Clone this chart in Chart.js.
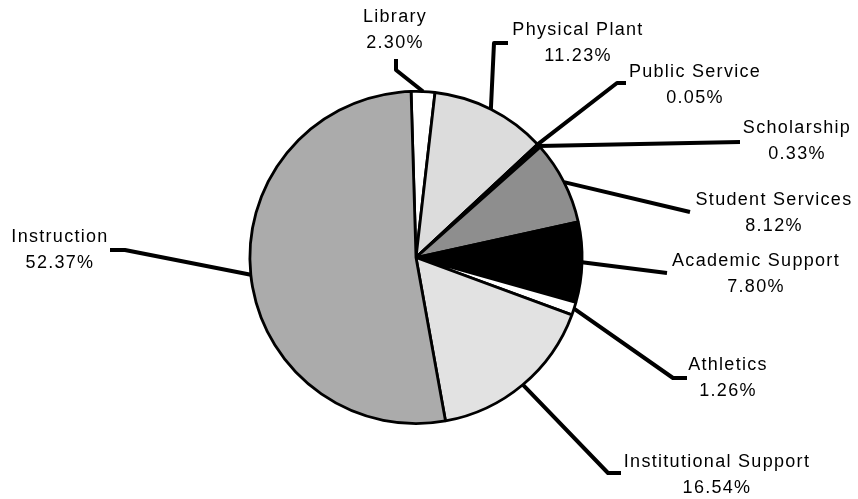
<!DOCTYPE html>
<html>
<head>
<meta charset="utf-8">
<script src="https://cdn.jsdelivr.net/npm/chart.js@4.4.1/dist/chart.umd.min.js"></script>
<style>
  body { margin: 0; background: #fff; }
  #wrap { width: 858px; height: 499px; position: relative; }
</style>
</head>
<body>
<div id="wrap"><canvas id="expenseChart"></canvas></div>
<script>
// categories, clockwise from the top
const categories = ['Library', 'Physical Plant', 'Public Service', 'Scholarship', 'Student Services',
                    'Academic Support', 'Athletics', 'Institutional Support', 'Instruction'];
const percentages = [2.30, 11.23, 0.05, 0.33, 8.12, 7.80, 1.26, 16.54, 52.37];
const sliceColors = ['#ffffff', '#dcdcdc', '#000000', '#111111', '#8e8e8e',
                     '#000000', '#ffffff', '#e2e2e2', '#ababab'];

// where each label sits and how its leader line bends (canvas px)
const labelLayout = [
    { text: [395, 17], path: [[396, 70], [396, 59]] },
    { text: [578, 30], path: [[494, 43], [508, 43]] },
    { text: [695, 72], path: [[617, 83], [626, 83]] },
    { text: [797, 128], path: [[740, 142]] },
    { text: [774, 200], path: [[690, 212]] },
    { text: [756, 261], path: [[667, 273]] },
    { text: [728, 365], path: [[673, 378], [687, 378]] },
    { text: [717, 462], path: [[608, 473], [621, 473]] },
    { text: [60, 237], path: [[125, 250], [110, 250]] }
];

const leaderLabels = {
    id: 'leaderLabels',
    afterDatasetsDraw(chart) {
        const ctx = chart.ctx;
        const meta = chart.getDatasetMeta(0);
        ctx.save();
        meta.data.forEach((arc, i) => {
            const p = arc.getProps(['x', 'y', 'startAngle', 'endAngle', 'outerRadius'], true);
            const mid = (p.startAngle + p.endAngle) / 2;
            const lay = labelLayout[i];
            // leader line
            ctx.beginPath();
            ctx.moveTo(p.x + Math.cos(mid) * p.outerRadius, p.y + Math.sin(mid) * p.outerRadius);
            lay.path.forEach(pt => ctx.lineTo(pt[0], pt[1]));
            ctx.lineWidth = 4;
            ctx.strokeStyle = '#000';
            ctx.lineJoin = 'round';
            ctx.lineCap = 'butt';
            ctx.stroke();
            // label text
            ctx.fillStyle = '#000';
            ctx.font = '18px "Liberation Sans", Arial, sans-serif';
            ctx.letterSpacing = '1.3px';
            ctx.textAlign = 'center';
            ctx.textBaseline = 'middle';
            ctx.fillText(categories[i], lay.text[0], lay.text[1]);
            ctx.fillText(percentages[i].toFixed(2) + '%', lay.text[0], lay.text[1] + 26);
        });
        ctx.restore();
    }
};

new Chart(document.getElementById('expenseChart'), {
    type: 'pie',
    data: {
        labels: categories,
        datasets: [{
            data: percentages,
            backgroundColor: sliceColors,
            borderColor: '#000',
            borderWidth: 2.8
        }]
    },
    options: {
        responsive: true,
        maintainAspectRatio: false,
        animation: false,
        rotation: -1.7,
        layout: { padding: { top: 90, bottom: 74, left: 0, right: 26 } },
        plugins: {
            legend: { display: false },
            tooltip: { enabled: false }
        }
    },
    plugins: [leaderLabels]
});
</script>
</body>
</html>
